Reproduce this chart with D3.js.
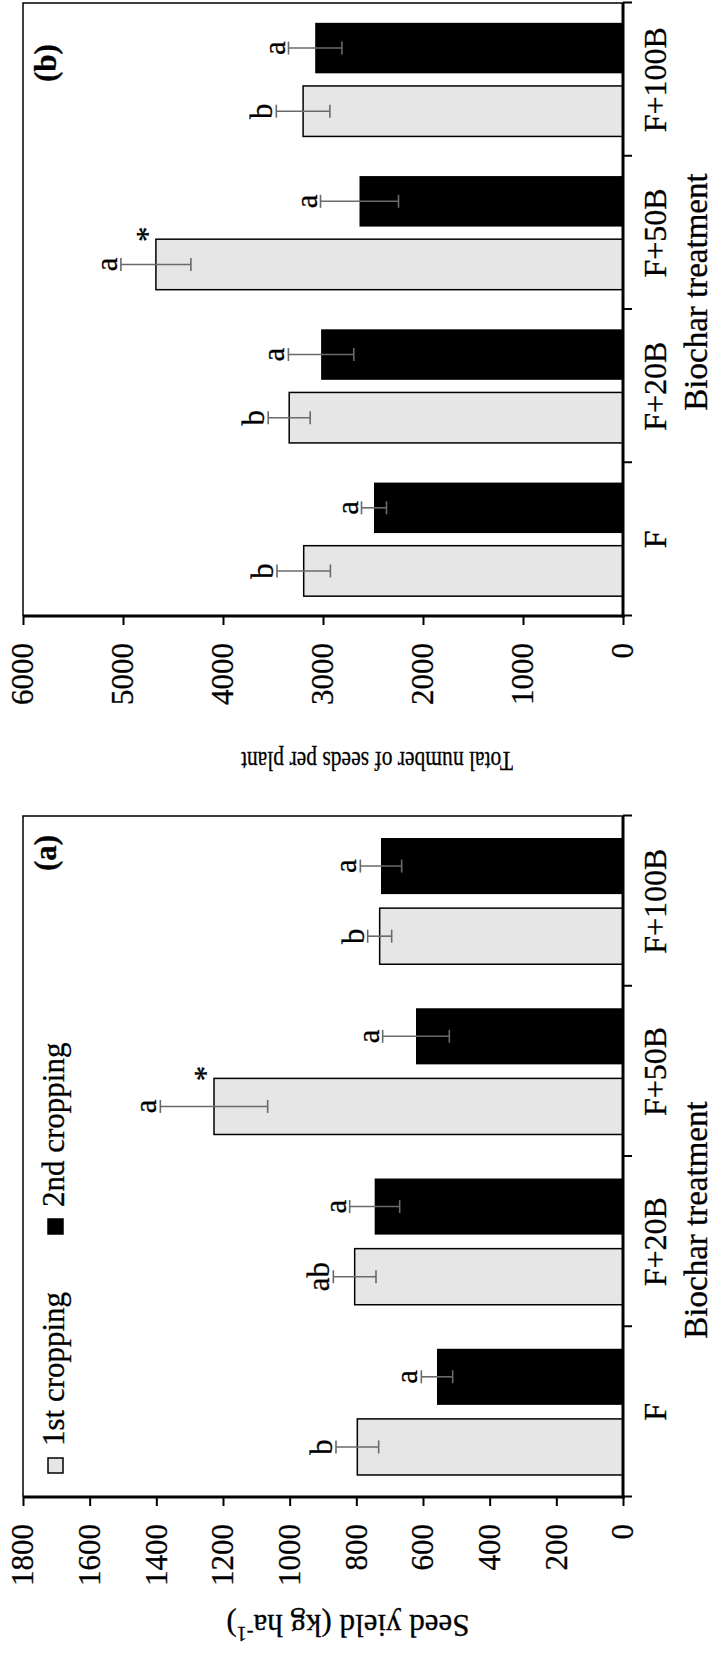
<!DOCTYPE html>
<html>
<head>
<meta charset="utf-8">
<script src="https://cdn.jsdelivr.net/npm/d3@7"></script>
<style>
  html, body { margin: 0; padding: 0; background: #fff; }
  svg { display: block; }
  svg text { font-family: "Liberation Serif", "DejaVu Serif", "Times New Roman", Times, serif !important; fill: #000; stroke: #000; stroke-width: 0.3px; }
</style>
</head>
<body>
<svg id="fig" width="721" height="1668"></svg>
<script>
// ---- data ----
const categories = ["F", "F+20B", "F+50B", "F+100B"];
const series = ["1st cropping", "2nd cropping"];

// (a) seed yield, kg ha-1
const yieldFirst = [797, 805, 1227, 730];
const yieldSecond = [558, 745, 621, 726];
const yieldFirstErr = [64, 64, 161, 36];
const yieldSecondErr = [47, 75, 100, 62];
const yieldFirstLetters = ["b", "ab", "a", "b"];
const yieldSecondLetters = ["a", "a", "a", "a"];
const yieldTicks = [0, 200, 400, 600, 800, 1000, 1200, 1400, 1600, 1800];

// (b) total number of seeds per plant
const seedsFirst = [3193, 3338, 4671, 3199];
const seedsSecond = [2490, 3019, 2635, 3078];
const seedsFirstErr = [267, 210, 350, 268];
const seedsSecondErr = [125, 327, 390, 267];
const seedsFirstLetters = ["b", "b", "a", "b"];
const seedsSecondLetters = ["a", "a", "a", "a"];
const seedsTicks = [0, 1000, 2000, 3000, 4000, 5000, 6000];

// treatment marked with an asterisk (1st cropping differs from 2nd)
const starred = ["F+50B"];

// ---- layout (figure is drawn landscape, then turned a quarter turn) ----
const W = 1668, H = 721;
const fills = ["#e6e6e6", "#000000"];
const errColor = "#6a6a6a";
const FONT = '"Liberation Serif", "DejaVu Serif", "Times New Roman", serif';

const svg = d3.select("#fig");
const root = svg.append("g").attr("transform", `translate(0,${W}) rotate(-90)`);

function drawPanel(o) {
  const g = root.append("g");
  const y = d3.scaleLinear().domain([0, o.max]).range([623, 23]);
  const x = d3.scaleBand().domain(categories).range([o.x0, o.x1]).paddingInner(0).paddingOuter(0);
  const xs = d3.scaleBand().domain(series).range([0, x.bandwidth()]).paddingInner(0.2).paddingOuter(0.314);
  const bounds = d3.scaleLinear().domain([0, categories.length]).range([o.x0, o.x1]);

  // frame: top and right sides
  g.append("path")
    .attr("d", `M${o.x0},${y(o.max)}H${o.x1}V${y(0)}`)
    .attr("fill", "none").attr("stroke", "#000").attr("stroke-width", 1.5);

  // bars, error bars, letters
  const rows = categories.map((c, i) => ({
    c,
    vals: [o.first[i], o.second[i]],
    errs: [o.firstErr[i], o.secondErr[i]],
    lets: [o.firstLet[i], o.secondLet[i]]
  }));
  rows.forEach(r => {
    series.forEach((s, j) => {
      const bx = x(r.c) + xs(s), bw = xs.bandwidth();
      const v = r.vals[j], e = r.errs[j];
      g.append("rect")
        .attr("x", bx).attr("width", bw)
        .attr("y", y(v)).attr("height", y(0) - y(v))
        .attr("fill", fills[j]).attr("stroke", "#000").attr("stroke-width", j === 0 ? 1.5 : 0);
      const cx = bx + bw / 2;
      const eg = g.append("g").attr("stroke", errColor).attr("stroke-width", 1.6);
      eg.append("line").attr("x1", cx).attr("x2", cx).attr("y1", y(v - e)).attr("y2", y(v + e));
      eg.append("line").attr("x1", cx - 6.5).attr("x2", cx + 6.5).attr("y1", y(v - e)).attr("y2", y(v - e));
      eg.append("line").attr("x1", cx - 6.5).attr("x2", cx + 6.5).attr("y1", y(v + e)).attr("y2", y(v + e));
      g.append("text")
        .attr("x", cx).attr("y", y(v + e) - 4)
        .attr("text-anchor", "middle").attr("font-size", 31)
        .text(r.lets[j]);
      if (j === 0 && starred.includes(r.c)) {
        g.append("text")
          .attr("x", bx + bw + 5).attr("y", y(v) + 2)
          .attr("text-anchor", "middle").attr("font-size", 31)
          .text("*");
      }
    });
  });

  // value axis
  const ya = g.append("g").attr("transform", `translate(${o.x0},0)`)
    .call(d3.axisLeft(y).tickValues(o.ticks).tickSize(9).tickSizeOuter(0).tickPadding(18).tickFormat(d3.format("d")));
  ya.attr("font-family", FONT);
  ya.select(".domain").remove();
  ya.selectAll(".tick line").attr("stroke", "#000").attr("stroke-width", 2);
  ya.selectAll(".tick text").attr("font-size", 31).attr("fill", "#000");
  g.append("line").attr("x1", o.x0).attr("x2", o.x0).attr("y1", y(o.max)).attr("y2", y(0) + 1.5)
    .attr("stroke", "#000").attr("stroke-width", 3);

  // category axis: boundary ticks + centred labels
  const xt = g.append("g").attr("transform", `translate(0,${y(0)})`)
    .call(d3.axisBottom(bounds).tickValues(d3.range(categories.length + 1)).tickSize(9).tickSizeOuter(0).tickFormat(""));
  xt.select(".domain").remove();
  xt.selectAll(".tick line").attr("stroke", "#000").attr("stroke-width", 2);
  const xl = g.append("g").attr("transform", `translate(0,${y(0)})`)
    .call(d3.axisBottom(x).tickSize(0).tickPadding(20));
  xl.attr("font-family", FONT);
  xl.select(".domain").remove();
  xl.selectAll(".tick text").attr("font-size", 32).attr("fill", "#000");
  g.append("line").attr("x1", o.x0 - 1.5).attr("x2", o.x1).attr("y1", y(0)).attr("y2", y(0))
    .attr("stroke", "#000").attr("stroke-width", 3);

  // axis titles
  g.append("text")
    .attr("x", o.xtX).attr("y", 707)
    .attr("text-anchor", "middle").attr("font-size", 33)
    .text("Biochar treatment");
  const yt = g.append("text")
    .attr("transform", `translate(${o.ytX},${o.ytY}) rotate(-90)`)
    .attr("text-anchor", "middle").attr("font-size", o.ytSize);
  o.ytitle(yt);

  // panel tag
  g.append("text")
    .attr("x", o.tagX).attr("y", 56)
    .attr("text-anchor", "middle").attr("font-size", 31).attr("font-weight", "bold")
    .text(o.tag);

  return { g, y, x };
}

const pa = drawPanel({
  x0: 171, x1: 852, max: 1800, ticks: yieldTicks,
  first: yieldFirst, second: yieldSecond, firstErr: yieldFirstErr, secondErr: yieldSecondErr,
  firstLet: yieldFirstLetters, secondLet: yieldSecondLetters,
  tag: "(a)", tagX: 815, xtX: 448, ytX: 53, ytY: 348, ytSize: 31,
  ytitle: t => {
    t.append("tspan").text("Seed yield (kg ha");
    t.append("tspan").attr("font-size", 20).attr("dy", -12).text("-1");
    t.append("tspan").attr("dy", 12).text(")");
  }
});

drawPanel({
  x0: 1052, x1: 1665, max: 6000, ticks: seedsTicks,
  first: seedsFirst, second: seedsSecond, firstErr: seedsFirstErr, secondErr: seedsSecondErr,
  firstLet: seedsFirstLetters, secondLet: seedsSecondLetters,
  tag: "(b)", tagX: 1605, xtX: 1376, ytX: 916, ytY: 377, ytSize: 28,
  // this title is set condensed to fit its length
  ytitle: t => t.attr("textLength", 272).attr("lengthAdjust", "spacingAndGlyphs").text("Total number of seeds per plant")
});

// legend (panel a)
const leg = pa.g.append("g");
const legX = [195, 434];
series.forEach((s, j) => {
  leg.append("rect")
    .attr("x", legX[j]).attr("y", 48).attr("width", 15).attr("height", 15)
    .attr("fill", fills[j]).attr("stroke", "#000").attr("stroke-width", 1.5);
  leg.append("text")
    .attr("x", legX[j] + 27).attr("y", 64)
    .attr("font-size", 31)
    .text(s);
});
</script>
</body>
</html>
